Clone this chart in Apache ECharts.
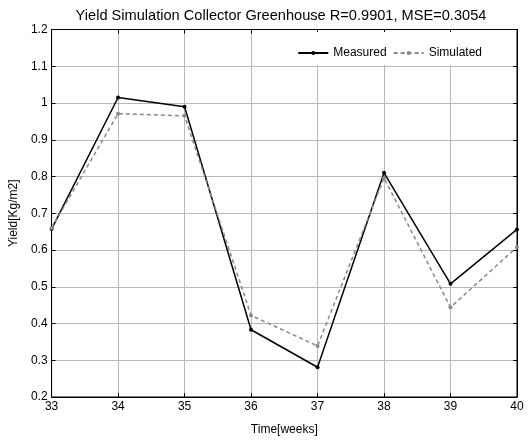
<!DOCTYPE html>
<html><head><meta charset="utf-8">
<script src="https://cdn.jsdelivr.net/npm/echarts@6/dist/echarts.min.js"></script>
<style>html,body{margin:0;padding:0;background:#fff}#c{width:528px;height:441px}</style>
</head><body><div id="c"></div>
<script>
const weeks = [33, 34, 35, 36, 37, 38, 39, 40];
const measured = [0.657, 1.015, 0.99, 0.383, 0.281, 0.81, 0.508, 0.656];
const simulated = [0.66, 0.971, 0.965, 0.422, 0.339, 0.796, 0.444, 0.608];
const xTicks = [33, 34, 35, 36, 37, 38, 39, 40];
const yTicks = [0.2, 0.3, 0.4, 0.5, 0.6, 0.7, 0.8, 0.9, 1, 1.1, 1.2];

const font = 'Liberation Sans, Arial, sans-serif';
const chart = echarts.init(document.getElementById('c'), null, {renderer: 'canvas'});
const pairs = arr => weeks.map((w, i) => [w, arr[i]]);
const gridLine = {show: true, lineStyle: {color: '#b8b8b8', type: 'solid', width: 1}};
chart.setOption({
  animation: false,
  backgroundColor: '#fff',
  title: {
    text: 'Yield Simulation Collector Greenhouse R=0.9901, MSE=0.3054',
    left: 276, top: 3, textAlign: 'center',
    textStyle: {fontFamily: font, fontSize: 14.6, fontWeight: 'normal', color: '#000'}
  },
  grid: {left: 49, right: 11, top: 29.5, bottom: 38.5, show: true, borderColor: '#000', borderWidth: 1, containLabel: false},
  legend: {
    right: 12, top: 32, padding: [15, 34, 6, 7], backgroundColor: '#fff',
    itemWidth: 30, itemHeight: 5, itemGap: 6,
    textStyle: {fontFamily: font, fontSize: 12, color: '#000'},
    data: ['Measured', 'Simulated']
  },
  xAxis: [{
    type: 'value', min: xTicks[0], max: xTicks[xTicks.length - 1], interval: 1,
    name: 'Time[weeks]', nameLocation: 'middle', nameGap: 27,
    nameTextStyle: {fontFamily: font, fontSize: 12, color: '#000'},
    axisLine: {show: true, lineStyle: {color: '#000', width: 1}},
    axisTick: {show: true, inside: true, length: 4, lineStyle: {color: '#000'}},
    axisLabel: {fontFamily: font, fontSize: 12, color: '#000', margin: 4},
    splitLine: gridLine
  }, {
    type: 'value', position: 'top', min: xTicks[0], max: xTicks[xTicks.length - 1], interval: 1,
    axisLine: {show: true, lineStyle: {color: '#000'}},
    axisTick: {show: true, inside: true, length: 4, lineStyle: {color: '#000'}},
    axisLabel: {show: false}, splitLine: {show: false}
  }],
  yAxis: [{
    type: 'value', min: yTicks[0], max: yTicks[yTicks.length - 1], interval: 0.1,
    name: 'Yield[Kg/m2]', nameLocation: 'middle', nameGap: 30,
    nameTextStyle: {fontFamily: font, fontSize: 12, color: '#000'},
    axisLine: {show: true, lineStyle: {color: '#000', width: 1}},
    axisTick: {show: true, inside: true, length: 4, lineStyle: {color: '#000'}},
    axisLabel: {fontFamily: font, fontSize: 12, color: '#000', margin: 4,
      formatter: v => String(Math.round(v * 10) / 10)},
    splitLine: gridLine
  }, {
    type: 'value', position: 'right', min: yTicks[0], max: yTicks[yTicks.length - 1], interval: 0.1,
    axisLine: {show: true, lineStyle: {color: '#000'}},
    axisTick: {show: true, inside: true, length: 4, lineStyle: {color: '#000'}},
    axisLabel: {show: false}, splitLine: {show: false}
  }],
  series: [{
    name: 'Measured', type: 'line', data: pairs(measured),
    symbol: 'circle', symbolSize: 4, showSymbol: true,
    lineStyle: {color: '#000', width: 1.5}, itemStyle: {color: '#000'}
  }, {
    name: 'Simulated', type: 'line', data: pairs(simulated),
    symbol: 'circle', symbolSize: 4, showSymbol: true,
    lineStyle: {color: '#888', width: 1.5, type: [4, 3]}, itemStyle: {color: '#888'}
  }]
});
</script></body></html>
